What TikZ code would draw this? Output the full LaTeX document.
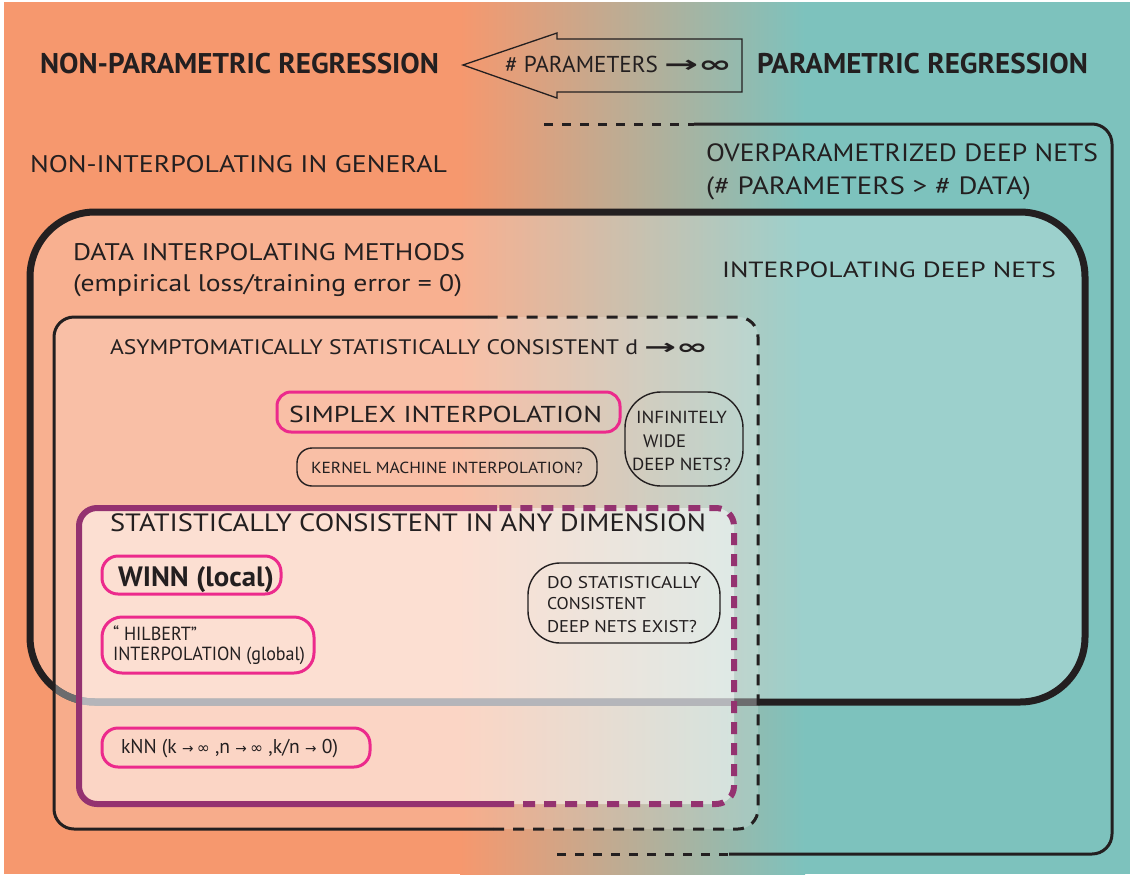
\documentclass[tikz,border=0pt]{standalone}
\usepackage{fontspec}
\setmainfont{PT Sans}
\newfontfamily\djv{DejaVu Sans}
\usepackage{graphicx}
\definecolor{bgor}{RGB}{246,152,110}
\definecolor{bgte}{RGB}{125,194,189}
\definecolor{ink}{RGB}{35,31,32}
\definecolor{pinkc}{RGB}{236,42,140}
\definecolor{purp}{RGB}{148,50,112}
\definecolor{dgray}{RGB}{108,108,110}
\definecolor{lgray}{RGB}{180,181,186}
\newcommand\fw[3]{\resizebox{#1pt}{\height}{\fontsize{#2pt}{#2pt}\selectfont #3}}
\newcommand\sarr{{\djv\fontsize{14pt}{14pt}\selectfont →}}
\newcommand\sinf{{\djv\fontsize{16pt}{16pt}\selectfont ∞}}
\tikzset{
  lbl/.style={anchor=base west, inner sep=0pt, outer sep=0pt, text=ink},
  pbox/.style={draw=pinkc, line width=3pt, inner sep=0pt, rounded corners=#1},
  kbox/.style={draw=ink, line width=1.4pt, inner sep=0pt, rounded corners=#1},
  thinline/.style={ink, line width=3pt},
  purpline/.style={purp, line width=6pt, rounded corners=18pt},
}
\begin{document}
\begin{tikzpicture}[x=1pt,y=-1pt]
\useasboundingbox (0,0) rectangle (1130,876);
\fill[white] (0,0) rectangle (1130,876);
\fill[bgor] (4,2) rectangle (461,874);
\shade[left color=bgor,right color=bgte] (460,2) rectangle (805,874);
\fill[bgte] (804,2) rectangle (1130,874);

% headings and arrow
\node[lbl] (npr) at (40,73) {\fw{399}{28.5}{\bfseries NON-PARAMETRIC REGRESSION}};
\node[lbl] (pr) at (757,73) {\fw{331}{28.5}{\bfseries PARAMETRIC REGRESSION}};
\draw[ink, line width=1.3pt, line join=miter] (463,65) -- (557,33) -- (557,39) -- (742,39) -- (742,92) -- (557,92) -- (557,98) -- cycle;
\node[lbl] (par) at (505,72) {\fw{153}{23}{\# PARAMETERS}};
\node[lbl] (parinf) at (664,72) {\fw{68}{23}{{\djv\bfseries →∞}}};

% box 1: overparametrized deep nets
\draw[thinline, rounded corners=20pt] (694,124) -- (1112,124) -- (1112,854) -- (729,854);
\draw[thinline, dash pattern=on 9pt off 9pt] (544,124) -- (694,124);
\draw[thinline, dash pattern=on 9pt off 9pt] (557,854) -- (729,854);

% box 2: interpolating
\fill[white, fill opacity=0.24, rounded corners=65pt] (30,212) rectangle (1085,702);
\draw[ink, line width=7pt, rounded corners=65pt] (30,212) rectangle (1085,702);

% box 3: asymptotically consistent
\fill[white, fill opacity=0.2, rounded corners=20pt] (54,317) rectangle (758,829);
\begin{scope}
\clip[rounded corners=20pt] (54,317) rectangle (758,829);
\draw[dgray, line width=7pt, rounded corners=65pt] (30,212) rectangle (1085,702);
\end{scope}
\draw[thinline, rounded corners=20pt] (488,317) -- (54,317) -- (54,829) -- (493,829);
\draw[thinline, rounded corners=20pt, dash pattern=on 11pt off 9pt] (493,829) -- (758,829) -- (758,317) -- (488,317);

% box 4: consistent in any dimension
\fill[white, fill opacity=0.5, rounded corners=18pt] (79,508) rectangle (734,804);
\begin{scope}
\clip[rounded corners=18pt] (79,508) rectangle (734,804);
\draw[lgray, line width=7pt, rounded corners=65pt] (30,212) rectangle (1085,702);
\end{scope}
\draw[purpline] (497,508) -- (79,508) -- (79,804) -- (502,804);
\draw[purpline, dash pattern=on 12pt off 9pt] (502,804) -- (734,804) -- (734,508) -- (497,508);

% region labels
\node[lbl] (nig) at (30,172) {\fw{417}{24}{NON-INTERPOLATING IN GENERAL}};
\node[lbl] (odn1) at (706,161) {\fw{392}{25}{OVERPARAMETRIZED DEEP NETS}};
\node[lbl] (odn2) at (706,194) {\fw{325}{25}{(\# PARAMETERS > \# DATA)}};
\node[lbl] (dim1) at (73,260) {\fw{392}{24}{DATA INTERPOLATING METHODS}};
\node[lbl] (dim2) at (73,291) {\fw{389}{24}{(empirical loss/training error = 0)}};
\node[lbl] (idn) at (722,277) {\fw{334}{22}{INTERPOLATING DEEP NETS}};
\node[lbl] (asc) at (110,354) {\fw{528}{21}{ASYMPTOMATICALLY STATISTICALLY CONSISTENT d}};
\node[lbl] (ascinf) at (644,354) {\fw{64}{21}{{\djv\bfseries →∞}}};
\node[lbl] (scd) at (110,531) {\fw{596}{25}{STATISTICALLY CONSISTENT IN ANY DIMENSION}};

% inner boxes
\node[pbox=14pt, minimum width=343pt, minimum height=40pt] (simplexbox) at (448.5,412) {};
\node[lbl] (simplex) at (289,422) {\fw{313}{23}{SIMPLEX INTERPOLATION}};

\node[kbox=36pt, minimum width=118pt, minimum height=94pt] (iwbox) at (684,439) {};
\node[lbl] (iw1) at (636,423) {\fw{91}{17.5}{INFINITELY}};
\node[lbl] (iw2) at (643,447) {\fw{43}{18}{WIDE}};
\node[lbl] (iw3) at (632,470) {\fw{99}{17.5}{DEEP NETS?}};

\node[kbox=15pt, minimum width=300pt, minimum height=38pt] (kernelbox) at (447,467) {};
\node[lbl] (kernel) at (311,473) {\fw{272}{16}{KERNEL MACHINE INTERPOLATION?}};

\node[pbox=16pt, minimum width=179pt, minimum height=38pt] (winnbox) at (191.5,575) {};
\node[lbl] (winn) at (118,586) {\fw{156}{28}{\bfseries WINN (local)}};

\node[pbox=20pt, minimum width=212pt, minimum height=56pt] (hilbox) at (208,645) {};
\node[lbl] (hil1) at (113,640) {\fw{84}{19}{“ HILBERT”}};
\node[lbl] (hil2) at (113,660) {\fw{192}{19}{INTERPOLATION (global)}};

\node[kbox=32pt, minimum width=192pt, minimum height=80pt] (dobox) at (624,603) {};
\node[lbl] (do1) at (547,588) {\fw{154}{17}{DO STATISTICALLY}};
\node[lbl] (do2) at (547,609) {\fw{99}{17}{CONSISTENT}};
\node[lbl] (do3) at (547,632) {\fw{150}{17}{DEEP NETS EXIST?}};

\node[pbox=16pt, minimum width=268pt, minimum height=39pt] (knnbox) at (236,747.5) {};
\node[lbl] (knn) at (121,753) {\fw{217}{20}{kNN (k \sarr\,\sinf\ ,n \sarr\,\sinf\ ,k/n \sarr\ 0)}};
\end{tikzpicture}
\end{document}
